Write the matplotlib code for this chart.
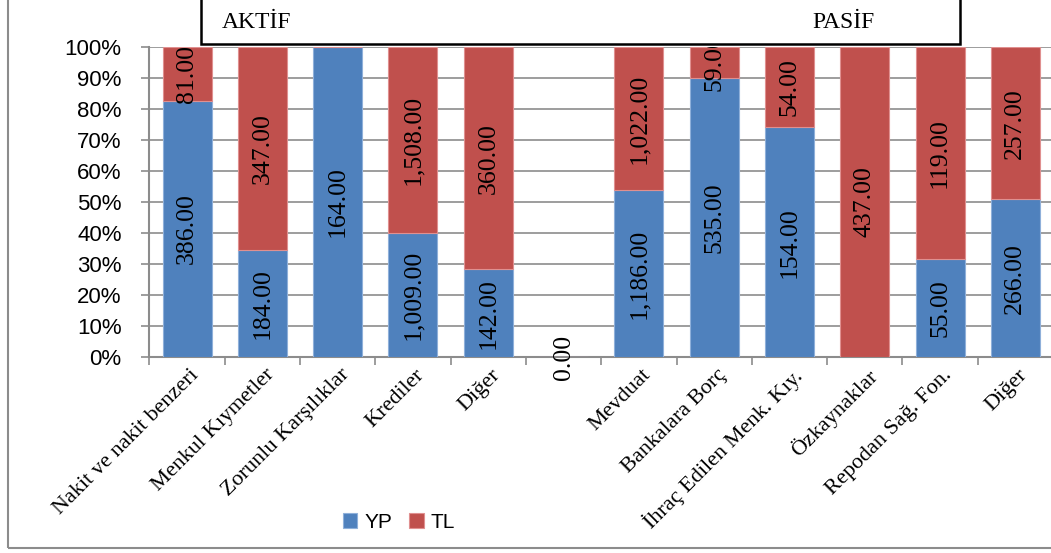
import matplotlib
matplotlib.use("Agg")
import matplotlib.pyplot as plt
import numpy as np
from matplotlib.patches import Rectangle

# data
categories = ["Nakit ve nakit benzeri", "Menkul Kıymetler", "Zorunlu Karşılıklar",
              "Krediler", "Diğer", "", "Mevduat", "Bankalara Borç",
              "İhraç Edilen Menk. Kıy.", "Özkaynaklar", "Repodan Sağ. Fon.", "Diğer"]
yp = [386, 184, 164, 1009, 142, 0, 1186, 535, 154, 0, 55, 266]
tl = [81, 347, 0, 1508, 360, 0, 1022, 59, 54, 437, 119, 257]

blue = "#4F81BD"
red = "#C0504D"
serif = "Liberation Serif"
sans = "Liberation Sans"

yp = np.array(yp, dtype=float)
tl = np.array(tl, dtype=float)
tot = yp + tl
safe = np.where(tot == 0, 1, tot)
yp_pct = np.where(tot == 0, 0, yp / safe * 100)
tl_pct = np.where(tot == 0, 0, tl / safe * 100)

fig = plt.figure(figsize=(10.51, 5.53), dpi=100)
ax = fig.add_axes([149.4 / 1051, 1 - 357 / 553, 903.6 / 1051, 310 / 553])

x = np.arange(len(categories))
ax.bar(x, yp_pct, width=0.65, color=blue, edgecolor="#8FB0DA", linewidth=0.8,
       label="YP", zorder=3)
ax.bar(x, tl_pct, width=0.65, bottom=yp_pct, color=red, edgecolor="#E09090",
       linewidth=0.8, label="TL", zorder=3)

# data labels
for i in range(len(categories)):
    if yp[i] > 0:
        ax.text(x[i], yp_pct[i] / 2, f"{yp[i]:,.2f}", rotation=90, ha="center",
                va="center", fontsize=18.5, family=serif, zorder=4, clip_on=True)
    if tl[i] > 0:
        ax.text(x[i], yp_pct[i] + tl_pct[i] / 2, f"{tl[i]:,.2f}", rotation=90,
                ha="center", va="center", fontsize=18.5, family=serif, zorder=4,
                clip_on=True)
# empty gap category label
ax.text(5, 0, "0.00", rotation=90, ha="center", va="center", fontsize=18.5,
        family=serif, clip_on=False)

ax.set_xlim(-0.5, len(categories) - 0.5)
ax.set_ylim(0, 100)
ax.set_yticks(np.arange(0, 101, 10))
ax.set_yticklabels([f"{v}%" for v in range(0, 101, 10)], family=sans, fontsize=16)
ax.yaxis.grid(True, color="#8C8C8C", linewidth=1.2, zorder=0)
ax.set_axisbelow(True)

ax.set_xticks(x + 0.03)
ax.set_xticklabels(categories, rotation=45, ha="right", rotation_mode="anchor",
                   family=serif, fontsize=16)
ax.tick_params(axis="x", length=0, pad=6)
ax.set_xticks(np.arange(-0.5, len(categories), 1), minor=True)
ax.tick_params(axis="x", which="minor", length=6, color="#8C8C8C", width=1.2)
ax.tick_params(axis="y", length=6, color="#8C8C8C", width=1.2, pad=14)

for s in ["top", "right"]:
    ax.spines[s].set_visible(False)
for s in ["left", "bottom"]:
    ax.spines[s].set_color("#8C8C8C")
    ax.spines[s].set_linewidth(1.5)

# legend
ax.legend(loc="center", bbox_to_anchor=(399 / 1051, 1 - 522 / 553),
          bbox_transform=fig.transFigure, ncol=2, frameon=False,
          prop={"family": sans, "size": 15}, handlelength=0.7, handleheight=0.7,
          handletextpad=0.35, columnspacing=0.8)

# outer frame
fig.patches.append(Rectangle((8 / 1051, 1 - 548 / 553), 1.1, 548 / 553 + 0.01,
                             transform=fig.transFigure, fill=False,
                             edgecolor="#8C8C8C", linewidth=1.5))

# header box
fig.patches.append(Rectangle((201 / 1051, 1 - 44 / 553), 759 / 1051, 0.1,
                             transform=fig.transFigure, facecolor="white",
                             edgecolor="black", linewidth=1.8, zorder=5))
fig.text(222 / 1051, 1 - 22 / 553, "AKTİF", family=serif, fontsize=17,
         va="center", ha="left", zorder=6)
fig.text(812 / 1051, 1 - 22 / 553, "PASİF", family=serif, fontsize=17,
         va="center", ha="left", zorder=6)

fig.savefig("out.png", dpi=100)
